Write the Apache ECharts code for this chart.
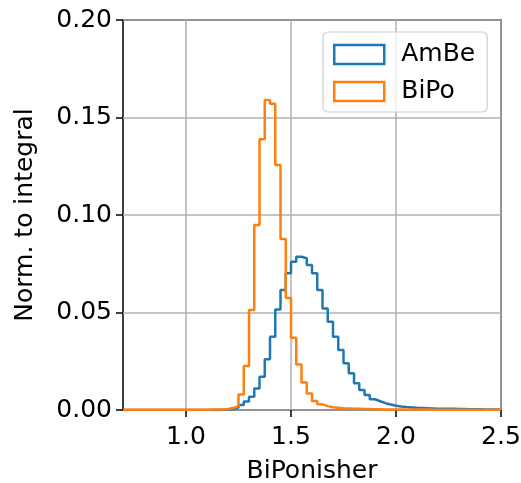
<!DOCTYPE html>
<html>
<head>
<meta charset="utf-8">
<script src="https://cdn.jsdelivr.net/npm/echarts@6/dist/echarts.min.js"></script>
<style>
html,body{margin:0;padding:0;background:#fff;}
#chart{width:521px;height:483px;}
</style>
</head>
<body>
<div id="chart"></div>
<script>
// Histogram binning (x axis)
const binStart = 0.7;
const binWidth = 0.025;
const xMin = 0.7, xMax = 2.5;
const xTicks = [1.0, 1.5, 2.0, 2.5];
const yTicks = [0.00, 0.05, 0.10, 0.15, 0.20];

// Series values per bin (72 bins from 0.7 to 2.5)
const amBe = [
  0,0,0,0,0,0,0,0,0,0,
  0,0,0,0,0,0,0,0,0.0001,0.0002,
  0.0005,0.0012,0.0026,0.0043,0.0068,0.011,0.017,0.026,0.0376,0.0516,
  0.0615,0.0701,0.076,0.0786,0.0778,0.0744,0.0701,0.0615,0.052,0.0453,
  0.0376,0.0308,0.024,0.0188,0.0137,0.0103,0.0077,0.0055,0.0045,0.0035,
  0.0028,0.0022,0.0018,0.0015,0.0013,0.0011,0.001,0.0009,0.0008,0.0007,
  0.0007,0.0006,0.0006,0.0005,0.0005,0.0004,0.0004,0.0004,0.0003,0.0003,
  0.0003,0.0003
];
const biPo = [
  0.0001,0.0001,0.0001,0.0001,0.0001,0.0001,0.0001,0.0001,0.0001,0.0001,
  0.0001,0.0001,0.0001,0.0001,0.0001,0.0001,0.0002,0.0002,0.0003,0.0005,
  0.001,0.002,0.008,0.0226,0.0513,0.0949,0.1388,0.159,0.157,0.1256,
  0.0877,0.0574,0.037,0.0233,0.0141,0.0085,0.0046,0.0029,0.002,0.0014,
  0.0011,0.0009,0.0008,0.0007,0.0006,0.0005,0.0005,0.0004,0.0004,0.0003,
  0.0003,0.0003,0.0002,0.0002,0.0002,0.0002,0.0002,0.0002,0.0001,0.0001,
  0.0001,0.0001,0.0001,0.0001,0.0001,0.0001,0.0001,0.0001,0.0001,0.0001,
  0.0001,0.0001
];
const seriesNames = ['AmBe', 'BiPo'];
const colors = ['#1f77b4', '#ff7f0e'];

function stepData(vals) {
  const pts = [[binStart, 0]];
  for (let i = 0; i < vals.length; i++) {
    pts.push([binStart + i * binWidth, vals[i]]);
  }
  const end = binStart + vals.length * binWidth;
  pts.push([end, vals[vals.length - 1]]);
  pts.push([end, 0]);
  return pts;
}

const font = 'DejaVu Sans';
const fs = 25;
const chart = echarts.init(document.getElementById('chart'), null, {renderer: 'canvas'});
chart.setOption({
  animation: false,
  backgroundColor: '#ffffff',
  grid: {left: 123, right: 20, top: 20, bottom: 73, containLabel: false, outerBoundsMode: 'none',
    show: true, borderColor: '#000', borderWidth: 1.5, backgroundColor: 'transparent'},
  legend: {
    orient: 'vertical',
    left: 323, top: 32,
    padding: [10, 12, 8, 10],
    itemWidth: 50, itemHeight: 19, itemGap: 12,
    backgroundColor: 'rgba(255,255,255,0.8)',
    borderColor: '#d0d0d0', borderWidth: 1.2, borderRadius: 5,
    textStyle: {fontFamily: font, fontSize: fs, color: '#000', padding: [0,0,0,12]},
    data: seriesNames.map((n, i) => ({
      name: n, icon: 'rect',
      itemStyle: {color: 'rgba(0,0,0,0)', borderColor: colors[i], borderWidth: 2.5}
    }))
  },
  xAxis: {
    type: 'value', min: xMin, max: xMax,
    name: 'BiPonisher', nameLocation: 'middle', nameGap: 49,
    nameTextStyle: {fontFamily: font, fontSize: fs, color: '#000'},
    axisLine: {show: false},
    axisTick: {show: true, length: 7, lineStyle: {color: '#000', width: 1.5}, customValues: xTicks},
    axisLabel: {fontFamily: font, fontSize: fs, color: '#000', margin: 15, customValues: xTicks,
      formatter: v => Number(v).toFixed(1)},
    splitLine: {show: true, lineStyle: {color: '#b0b0b0', width: 1.5}}
  },
  yAxis: {
    type: 'value', min: 0, max: 0.2, interval: 0.05,
    name: 'Norm. to integral', nameLocation: 'middle', nameGap: 85, nameRotate: 90,
    nameTextStyle: {fontFamily: font, fontSize: fs, color: '#000'},
    axisLine: {show: false},
    axisTick: {show: true, length: 7, lineStyle: {color: '#000', width: 1.5}},
    axisLabel: {fontFamily: font, fontSize: fs, color: '#000', margin: 11,
      formatter: v => Number(v).toFixed(2)},
    splitLine: {show: true, lineStyle: {color: '#b0b0b0', width: 1.5}}
  },
  series: [amBe, biPo].map((vals, i) => ({
    name: seriesNames[i], type: 'line', step: 'end',
    data: stepData(vals), showSymbol: false, symbol: 'none',
    lineStyle: {color: colors[i], width: 2.5},
    itemStyle: {color: colors[i]},
    clip: true, z: 2 + i
  }))
});
</script>
</body>
</html>
